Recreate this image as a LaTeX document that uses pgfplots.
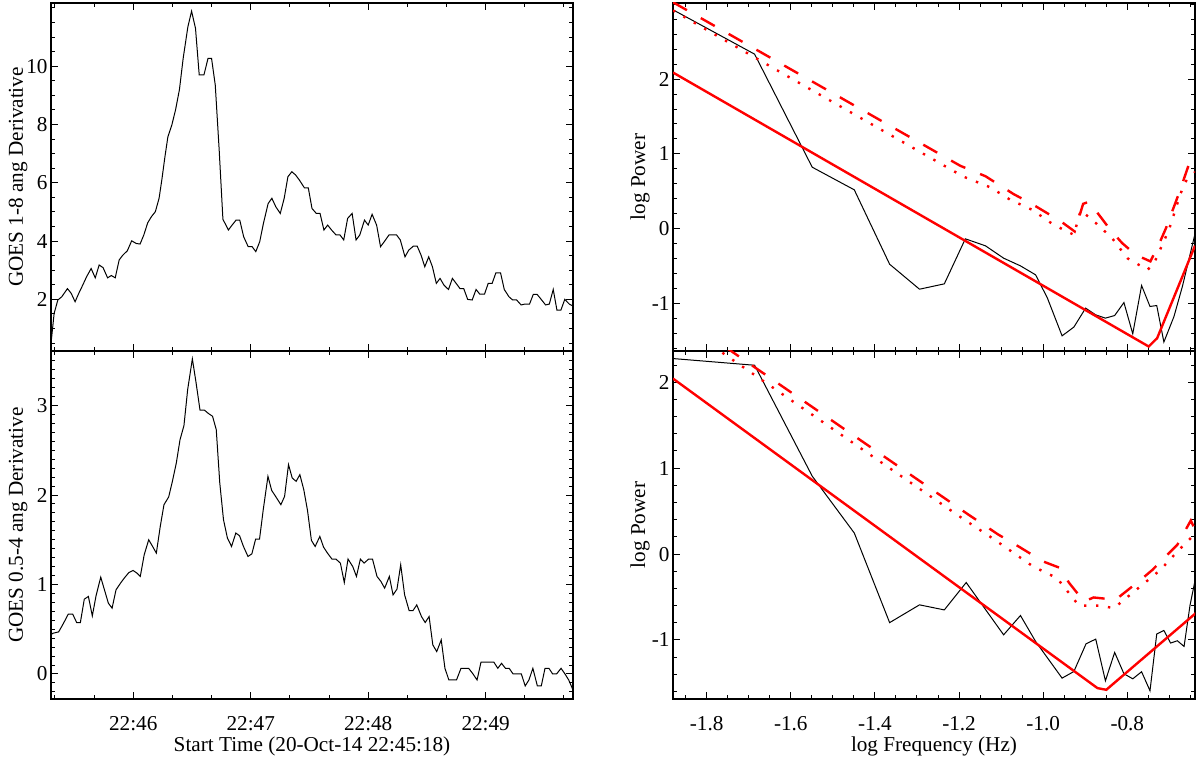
\documentclass[border=0pt]{standalone}
\usepackage{fontspec}
\setmainfont{Liberation Serif}
\usepackage{pgfplots}
\pgfplotsset{compat=1.18}
\begin{document}
\fontsize{10.6bp}{12bp}\selectfont
\begin{tikzpicture}
\useasboundingbox (0,0) rectangle (600bp,380.5bp);
\pgfplotsset{
  myax/.style={
    scale only axis, width=261bp, height=174bp,
    anchor=south west,
    axis line style={line width=0.75bp},
    every tick/.style={black, line width=0.5bp},
    major tick length=3.6bp, minor tick length=1.9bp,
    tick align=inside, tick pos=both,
    xticklabel pos=lower, yticklabel pos=left,
    /pgf/number format/assume math mode=true,
    tick label style={font=\fontsize{10.6bp}{12bp}\selectfont},
    label style={font=\fontsize{10.6bp}{12bp}\selectfont},
    yticklabel style={xshift=2bp},
    xticklabel style={yshift=-5bp},
    ylabel style={at={(axis description cs:-0.0632,0.5)}, anchor=center},
    xlabel style={at={(axis description cs:0.5,-0.135)}, anchor=center},
  },
  blk/.style={black, line width=0.5bp},
  rsol/.style={red, line width=1.2bp},
  rdash/.style={red, line width=1.2bp, dash pattern=on 8bp off 8bp},
  rdot/.style={red, line width=1.2bp, dash pattern=on 1.2bp off 4.8bp},
  leftax/.style={myax, xmin=0, xmax=266.6,
    xtick={42,102,162,222}, minor xtick={2,22,62,82,122,142,182,202,242,262}},
  rightax/.style={myax, xmin=-1.88, xmax=-0.639,
    xtick={-1.8,-1.6,-1.4,-1.2,-1.0,-0.8},
    minor xtick={-1.85,-1.75,-1.7,-1.65,-1.55,-1.5,-1.45,-1.35,-1.3,-1.25,-1.15,-1.1,-1.05,-0.95,-0.9,-0.85,-0.75,-0.7,-0.65},
    xticklabel style={/pgf/number format/.cd, fixed, fixed zerofill, precision=1},
    ytick={-1,0,1,2},
    minor ytick={-1.6,-1.4,-1.2,-0.8,-0.6,-0.4,-0.2,0.2,0.4,0.6,0.8,1.2,1.4,1.6,1.8,2.2,2.4,2.6,2.8,3.0},
    ylabel={log Power}},
}
% ---------------- left top ----------------
\begin{axis}[leftax, at={(25.5bp,205bp)},
  ymin=0.23, ymax=12.17, ytick={2,4,6,8,10},
  minor ytick={0.5,1,1.5,2.5,3,3.5,4.5,5,5.5,6.5,7,7.5,8.5,9,9.5,10.5,11,11.5,12},
  xticklabel=\empty, ylabel={GOES 1-8 ang Derivative}]
\addplot[blk] table {
0 0.49
1.6 1.52
3.5 1.98
5.5 2.09
8.4 2.37
10.3 2.21
12.3 1.92
14.2 2.21
16.2 2.49
18.2 2.78
20.5 3.06
22.6 2.74
24.6 3.18
26.6 3.09
28.9 2.74
30.8 2.82
32.8 2.74
34.8 3.35
36.7 3.52
39.0 3.67
41.2 4.01
43.5 3.92
45.5 3.90
47.4 4.21
49.4 4.63
51.3 4.84
53.3 5.01
55.2 5.47
56.6 6.10
58.2 6.90
59.7 7.58
61.7 7.98
63.6 8.50
65.6 9.20
67.5 10.27
69.9 11.35
71.8 11.89
73.8 11.30
75.7 9.70
78.1 9.70
80.2 10.27
82.0 10.27
83.9 9.35
85.9 7.12
87.8 4.75
90.6 4.38
92.5 4.55
94.5 4.72
96.4 4.72
98.4 4.15
100.7 3.81
102.7 3.81
104.6 3.64
106.6 3.98
108.5 4.61
110.9 5.29
112.8 5.47
114.8 5.18
117.1 4.95
119.1 5.47
121.0 6.21
123.0 6.38
124.9 6.27
126.9 6.09
129.4 5.83
131.4 5.83
133.3 5.12
135.5 4.95
137.4 4.95
139.4 4.38
141.3 4.55
143.3 4.38
145.6 4.21
147.6 4.21
149.5 4.04
151.5 4.78
153.8 4.95
155.8 4.04
157.7 4.21
160.1 4.72
162.0 4.55
164.0 4.92
166.3 4.55
168.3 3.81
170.2 3.98
172.6 4.21
174.5 4.21
176.5 4.21
178.4 4.04
180.8 3.46
182.7 3.69
185.1 3.83
187.0 3.83
189.0 3.52
190.9 3.12
192.9 3.46
194.8 3.12
196.8 2.55
198.7 2.72
200.7 2.49
203.0 2.34
205.0 2.72
206.9 2.55
208.9 2.37
210.8 2.37
212.8 2.00
215.1 1.98
217.1 2.34
219.0 2.18
221.4 2.18
223.3 2.55
225.3 2.55
227.2 2.91
229.6 2.91
231.5 2.34
233.9 2.09
235.8 1.98
237.8 1.98
240.1 1.81
242.0 1.84
244.4 1.84
246.3 2.17
248.3 2.17
250.6 1.98
252.6 1.81
254.5 1.84
256.5 2.34
258.4 1.63
260.4 1.63
262.4 2.00
264.7 1.84
266.6 1.77
};
\end{axis}
% ---------------- left bottom ----------------
\begin{axis}[leftax, at={(25.5bp,31bp)},
  ymin=-0.28, ymax=3.61, ytick={0,1,2,3},
  minor ytick={-0.2,-0.1,0.1,0.2,0.3,0.4,0.5,0.6,0.7,0.8,0.9,1.1,1.2,1.3,1.4,1.5,1.6,1.7,1.8,1.9,2.1,2.2,2.3,2.4,2.5,2.6,2.7,2.8,2.9,3.1,3.2,3.3,3.4,3.5,3.6},
  xticklabels={22:46,22:47,22:48,22:49},
  xlabel={Start Time (20-Oct-14 22:45:18)},
  ylabel={GOES 0.5-4 ang Derivative}]
\addplot[blk] table {
0 0.44
1.0 0.455
3.9 0.47
6.4 0.567
8.8 0.668
11.1 0.668
13.1 0.575
15.0 0.575
17.0 0.836
19.1 0.866
21.1 0.649
23.0 0.873
25.4 1.082
27.3 0.940
29.3 0.791
31.2 0.735
33.2 0.940
35.5 1.015
37.4 1.071
39.8 1.134
41.9 1.157
43.9 1.127
45.6 1.090
47.6 1.332
49.9 1.500
51.9 1.425
53.8 1.351
55.8 1.649
57.7 1.892
60.1 1.978
62.0 2.153
64.0 2.358
65.9 2.619
67.9 2.776
69.8 3.179
72.2 3.522
74.1 3.254
76.1 2.948
78.4 2.948
80.5 2.910
82.5 2.881
84.4 2.731
86.2 2.134
88.1 1.724
90.1 1.519
92.2 1.425
94.4 1.575
96.3 1.545
98.3 1.425
100.6 1.313
102.6 1.343
104.5 1.507
106.5 1.507
108.4 1.836
110.8 2.209
112.7 2.052
114.7 1.985
117.4 1.892
119.3 1.985
121.3 2.340
123.2 2.190
125.2 2.153
127.1 2.228
129.1 2.060
131.0 1.828
133.0 1.493
134.9 1.425
137.3 1.537
139.2 1.418
141.2 1.351
143.5 1.284
145.5 1.284
147.8 1.239
149.8 1.022
151.7 1.284
154.1 1.201
156.0 1.090
158.0 1.284
159.9 1.239
162.2 1.284
164.2 1.284
166.5 1.090
168.5 1.034
170.4 0.959
172.8 1.090
174.7 0.884
176.7 0.948
178.6 1.220
180.6 0.884
182.9 0.709
184.9 0.709
186.8 0.772
189.2 0.642
191.1 0.575
193.1 0.642
195.0 0.325
197.0 0.250
199.3 0.381
201.2 0.063
203.2 -0.067
205.1 -0.067
207.1 -0.067
209.4 0.063
211.4 0.063
213.3 0.063
215.3 0.007
217.6 -0.067
219.6 0.131
221.9 0.131
223.9 0.131
226.2 0.131
228.2 0.063
230.1 0.119
232.1 0.063
234.0 0.063
236.0 0.0
237.9 0.0
240.2 0.0
242.2 -0.134
244.1 -0.067
246.1 0.063
248.4 -0.134
250.4 -0.134
252.3 0.063
254.3 0.063
256.2 0.0
258.2 0.0
260.5 0.063
262.5 0.0
264.4 -0.067
266.6 -0.179
};
\end{axis}
% ---------------- right top ----------------
\begin{axis}[rightax, at={(336.5bp,205bp)},
  ymin=-1.64, ymax=3.02, xticklabel=\empty]
\addplot[blk] table {
-1.880 2.929
-1.686 2.335
-1.549 0.821
-1.449 0.518
-1.365 -0.478
-1.294 -0.8125
-1.235 -0.741
-1.185 -0.138
-1.137 -0.232
-1.094 -0.397
-1.054 -0.50
-1.018 -0.62
-0.990 -0.93
-0.955 -1.437
-0.927 -1.32
-0.899 -1.066
-0.875 -1.156
-0.852 -1.20
-0.830 -1.165
-0.808 -0.991
-0.787 -1.41
-0.766 -0.763
-0.746 -1.044
-0.730 -1.031
-0.713 -1.52
-0.689 -1.178
-0.669 -0.776
-0.639 -0.071
};
\addplot[rsol] table {
-1.88 2.089
-0.749 -1.58
-0.729 -1.468
-0.639 -0.23
};
\addplot[rdash] table {
-1.88 3.03
-1.197 0.84
-1.137 0.70
-1.07 0.46
-1.03 0.34
-0.959 0.10
-0.925 -0.04
-0.905 0.33
-0.891 0.36
-0.840 -0.02
-0.812 -0.196
-0.780 -0.352
-0.745 -0.44
-0.720 -0.15
-0.708 0.005
-0.677 0.474
-0.651 0.90
-0.639 0.75
};
\addplot[rdot] table {
-1.88 2.92
-1.60 2.014
-1.19 0.696
-1.125 0.55
-1.078 0.384
-1.026 0.25
-0.975 0.05
-0.927 -0.084
-0.911 0.241
-0.883 0.116
-0.836 -0.129
-0.80 -0.397
-0.752 -0.553
-0.737 -0.473
-0.701 -0.017
-0.673 0.474
-0.657 0.675
-0.639 0.66
};
\end{axis}
% ---------------- right bottom ----------------
\begin{axis}[rightax, at={(336.5bp,31bp)},
  ymin=-1.687, ymax=2.364, xlabel={log Frequency (Hz)}]
\addplot[blk] table {
-1.880 2.276
-1.686 2.198
-1.549 0.907
-1.449 0.245
-1.365 -0.798
-1.294 -0.591
-1.235 -0.650
-1.183 -0.331
-1.094 -0.94
-1.054 -0.715
-1.018 -1.017
-0.955 -1.444
-0.927 -1.367
-0.898 -1.044
-0.875 -0.99
-0.852 -1.475
-0.830 -1.145
-0.808 -1.393
-0.787 -1.452
-0.766 -1.370
-0.746 -1.591
-0.730 -0.931
-0.713 -0.889
-0.697 -1.036
-0.681 -1.009
-0.665 -1.075
-0.651 -0.60
-0.637 -0.26
};
\addplot[rsol] table {
-1.88 2.043
-0.871 -1.56
-0.850 -1.58
-0.637 -0.687
};
\addplot[rdash] table {
-1.88 2.83
-1.177 0.457
-1.106 0.225
-1.074 0.135
-1.0 -0.086
-0.959 -0.163
-0.939 -0.331
-0.903 -0.552
-0.880 -0.505
-0.828 -0.532
-0.768 -0.299
-0.740 -0.183
-0.709 -0.028
-0.681 0.108
-0.649 0.391
-0.637 0.263
};
\addplot[rdot] table {
-1.88 2.74
-1.193 0.419
-1.121 0.186
-1.024 -0.144
-0.967 -0.28
-0.915 -0.60
-0.864 -0.60
-0.832 -0.63
-0.764 -0.357
-0.721 -0.183
-0.677 0.05
-0.645 0.205
-0.637 0.17
};
\end{axis}
\end{tikzpicture}
\end{document}
